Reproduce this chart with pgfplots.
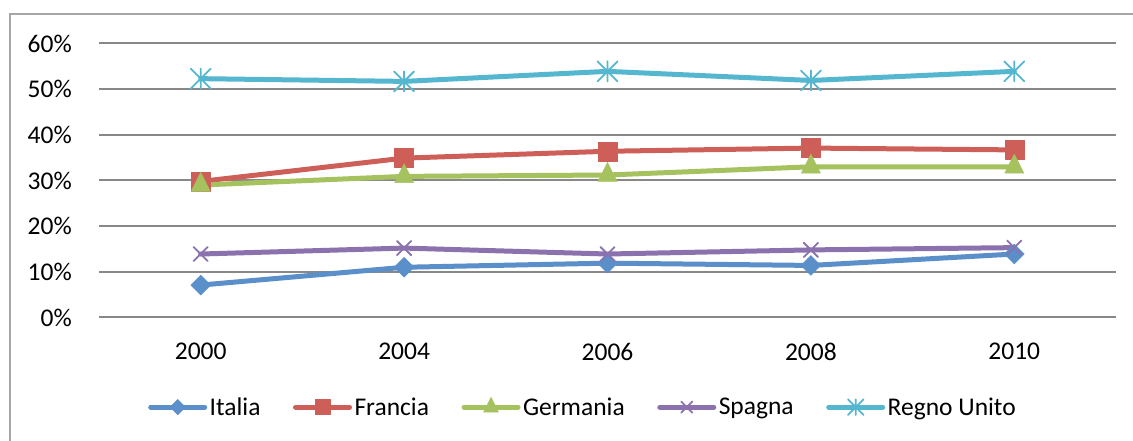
\documentclass[border=0pt]{standalone}
\usepackage{pgfplots}
\pgfplotsset{compat=1.18}
\usepackage{fontspec}
\setmainfont{Carlito}
\definecolor{cIta}{HTML}{5B8FC9}
\definecolor{cFra}{HTML}{CD5F58}
\definecolor{cGer}{HTML}{A5C25F}
\definecolor{cSpa}{HTML}{8B72AE}
\definecolor{cUK}{HTML}{55B7CF}
\definecolor{gridc}{HTML}{888888}
\definecolor{framec}{HTML}{A6A6A6}
\pgfdeclareplotmark{xstar}{%
  \pgfpathmoveto{\pgfqpoint{0pt}{\pgfplotmarksize}}%
  \pgfpathlineto{\pgfqpoint{0pt}{-\pgfplotmarksize}}%
  \pgfpathmoveto{\pgfqpoint{-\pgfplotmarksize}{\pgfplotmarksize}}%
  \pgfpathlineto{\pgfqpoint{\pgfplotmarksize}{-\pgfplotmarksize}}%
  \pgfpathmoveto{\pgfqpoint{-\pgfplotmarksize}{-\pgfplotmarksize}}%
  \pgfpathlineto{\pgfqpoint{\pgfplotmarksize}{\pgfplotmarksize}}%
  \pgfusepathqstroke}
\begin{document}
\begin{tikzpicture}
\useasboundingbox (0pt,0pt) rectangle (1133pt,441pt);
\draw[framec, line width=2pt] (10pt,-10pt) -- (10pt,427pt) -- (1150pt,427pt);
\begin{axis}[
  at={(99pt,123.5pt)}, anchor=south west,
  scale only axis, width=1017pt, height=274pt,
  xmin=-0.5, xmax=4.5, ymin=0, ymax=60,
  clip=false,
  axis line style={draw=none},
  major tick length=0pt,
  xtick={0,1,2,3,4},
  xticklabels={2000,2004,2006,2008,2010},
  ytick={0,10,20,30,40,50,60},
  yticklabels={0\%,10\%,20\%,30\%,40\%,50\%,60\%},
  ymajorgrids,
  major grid style={color=gridc, line width=2pt},
  every tick label/.append style={font=\fontsize{25.5}{30}\selectfont, text=black},
  yticklabel style={anchor=east, inner sep=0pt, xshift=-27pt},
  xticklabel style={anchor=north, inner sep=0pt, yshift=-25.5pt},
  legend columns=5,
  legend style={at={(0.0482,-0.3266)}, anchor=west, draw=none, fill=none,
    inner sep=0pt, font=\fontsize{25.5}{30}\selectfont,
    nodes={inner xsep=2.5pt, inner ysep=0pt},
    /tikz/every even column/.append style={column sep=30pt}},
  legend image code/.code={\draw[mark repeat=2,mark phase=2,#1,every mark/.append style={scale=0.78}] plot coordinates {(0pt,0pt) (27pt,0pt) (54pt,0pt)};},
  every axis plot/.append style={line width=5pt, line cap=round, line join=round},
]
\addplot[cIta, mark=square*, mark size=7pt, mark options={rotate=45, line width=0.5pt}]
  coordinates {(0,7.1) (1,11.0) (2,11.9) (3,11.4) (4,13.9)};
\addplot[cFra, mark=square*, mark size=9.5pt, mark options={line width=0.5pt}]
  coordinates {(0,29.8) (1,34.9) (2,36.4) (3,37.1) (4,36.7)};
\addplot[cGer, mark=triangle*, mark size=11pt, mark options={line width=0.5pt, yscale=1.15}]
  coordinates {(0,29.0) (1,30.9) (2,31.2) (3,33.0) (4,33.0)};
\addplot[cSpa, mark=x, mark size=10pt, mark options={line width=1.8pt}]
  coordinates {(0,13.9) (1,15.2) (2,13.9) (3,14.8) (4,15.3)};
\addplot[cUK, mark=xstar, mark size=10pt, mark options={line width=1.8pt}]
  coordinates {(0,52.3) (1,51.7) (2,53.9) (3,51.9) (4,53.9)};
\legend{Italia,Francia,Germania,Spagna,Regno Unito}
\end{axis}
\end{tikzpicture}
\end{document}
